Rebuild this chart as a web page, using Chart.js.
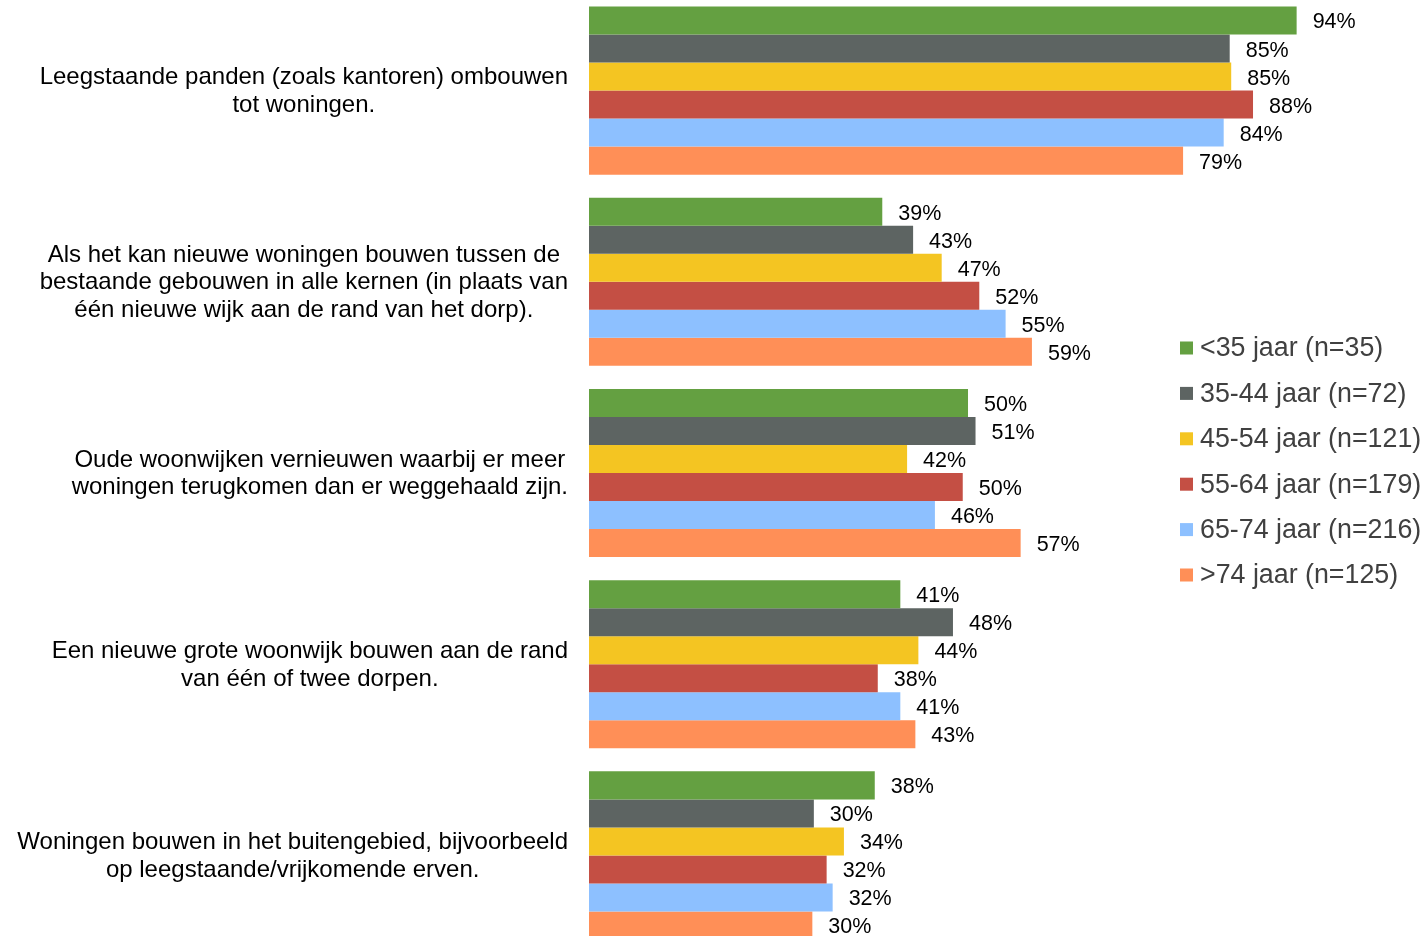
<!DOCTYPE html>
<html>
<head>
<meta charset="utf-8">
<script src="https://cdn.jsdelivr.net/npm/chart.js@4.4.1/dist/chart.umd.min.js"></script>
<style>
    html, body { margin: 0; padding: 0; background: #fff; overflow: hidden; }
    #wrap { position: absolute; left: 0; top: -5px; width: 1422px; height: 956px; }
</style>
</head>
<body>
<div id="wrap"><canvas id="chart"></canvas></div>
<script>
// categories (each one split in the lines as shown)
const categories = [
    ['Leegstaande panden (zoals kantoren) ombouwen', 'tot woningen.'],
    ['Als het kan nieuwe woningen bouwen tussen de', 'bestaande gebouwen in alle kernen (in plaats van', 'één nieuwe wijk aan de rand van het dorp).'],
    ['Oude woonwijken vernieuwen waarbij er meer', 'woningen terugkomen dan er weggehaald zijn.'],
    ['Een nieuwe grote woonwijk bouwen aan de rand', 'van één of twee dorpen.'],
    ['Woningen bouwen in het buitengebied, bijvoorbeeld', 'op leegstaande/vrijkomende erven.']
];

const seriesNames = ['<35 jaar (n=35)', '35-44 jaar (n=72)', '45-54 jaar (n=121)', '55-64 jaar (n=179)', '65-74 jaar (n=216)', '>74 jaar (n=125)'];
const seriesColors = ['#64a041', '#5d6462', '#f4c522', '#c44f44', '#8dc0ff', '#ff8f57'];

// percentages (labels show them rounded)
const under35 = [94.1, 39.0, 50.4, 41.4, 38.0];
const age35to44 = [85.2, 43.1, 51.4, 48.4, 29.9];
const age45to54 = [85.4, 46.9, 42.3, 43.8, 33.9];
const age55to64 = [88.3, 51.9, 49.7, 38.4, 31.6];
const age65to74 = [84.4, 55.4, 46.0, 41.4, 32.4];
const over74 = [79.0, 58.9, 57.4, 43.4, 29.7];

const seriesValues = [under35, age35to44, age45to54, age55to64, age65to74, over74];

// category labels: block right aligned, lines centered in the block
const categoryLabels = {
    id: 'categoryLabels',
    afterDraw(chart) {
        const ctx = chart.ctx;
        const y = chart.scales.y;
        ctx.save();
        ctx.font = '24px "Liberation Sans", Arial, sans-serif';
        ctx.fillStyle = '#000';
        ctx.textAlign = 'center';
        ctx.textBaseline = 'middle';
        const lineH = 27.5;
        categories.forEach((lines, i) => {
            const maxW = Math.max(...lines.map(l => ctx.measureText(l).width));
            const cx = 568 - maxW / 2;
            const cy = y.getPixelForValue(i) + 1;
            const top = cy - (lines.length - 1) * lineH / 2;
            lines.forEach((l, j) => ctx.fillText(l, cx, top + j * lineH));
        });
        ctx.restore();
    }
};

const valueLabels = {
    id: 'valueLabels',
    afterDatasetsDraw(chart) {
        const ctx = chart.ctx;
        ctx.save();
        ctx.font = '21.5px "Liberation Sans", Arial, sans-serif';
        ctx.fillStyle = '#000';
        ctx.textAlign = 'left';
        ctx.textBaseline = 'middle';
        chart.data.datasets.forEach((ds, d) => {
            chart.getDatasetMeta(d).data.forEach((bar, i) => {
                ctx.fillText(Math.round(ds.data[i]) + '%', bar.x + 16, bar.y + 2);
            });
        });
        ctx.restore();
    }
};

const sideLegend = {
    id: 'sideLegend',
    afterDraw(chart) {
        const ctx = chart.ctx;
        ctx.save();
        ctx.font = '26.8px "Liberation Sans", Arial, sans-serif';
        ctx.textAlign = 'left';
        ctx.textBaseline = 'middle';
        chart.data.datasets.forEach((ds, d) => {
            const cy = 353 + d * 45.4;
            ctx.fillStyle = ds.backgroundColor;
            ctx.fillRect(1180, cy - 6.5, 13, 13);
            ctx.fillStyle = '#404040';
            ctx.fillText(ds.label, 1200, cy + 1);
        });
        ctx.restore();
    }
};

new Chart(document.getElementById('chart').getContext('2d'), {
    type: 'bar',
    data: {
        labels: categories.map(c => c.join(' ')),
        datasets: seriesNames.map((name, i) => ({
            label: name,
            data: seriesValues[i],
            backgroundColor: seriesColors[i],
            borderWidth: 0,
            categoryPercentage: 0.879,
            barPercentage: 1
        }))
    },
    options: {
        indexAxis: 'y',
        responsive: true,
        maintainAspectRatio: false,
        animation: false,
        layout: { padding: { left: 589, right: 81, top: 0, bottom: 0 } },
        scales: {
            x: { display: false, min: 0, max: 100 },
            y: { display: false }
        },
        plugins: {
            legend: { display: false },
            tooltip: { enabled: false }
        }
    },
    plugins: [categoryLabels, valueLabels, sideLegend]
});
</script>
</body>
</html>
